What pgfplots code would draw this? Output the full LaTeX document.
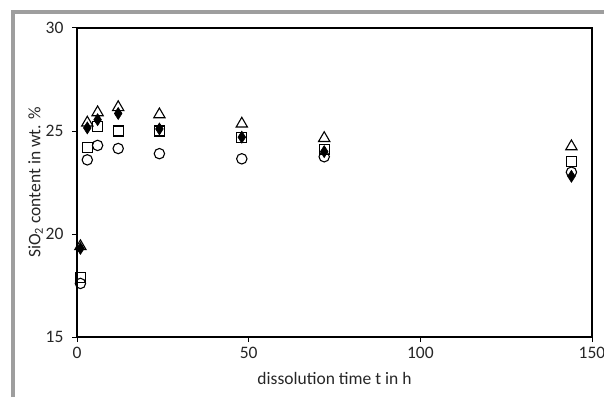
\documentclass[border=0pt]{standalone}
\usepackage{pgfplots}
\pgfplotsset{compat=1.18}
\usepackage{fontspec}
\setmainfont{Carlito}
\begin{document}
\begin{tikzpicture}[x=1bp,y=1bp]
\path[use as bounding box] (0,0) rectangle (604,397);
\draw[color=black!38, line width=3.5bp] (13,0) -- (13,385) -- (604,385);
\begin{axis}[
  at={(77bp,60bp)}, anchor=south west,
  width=515bp, height=309bp, scale only axis,
  xmin=0, xmax=150, ymin=15, ymax=30,
  xtick={0,50,100,150}, ytick={15,20,25,30},
  tick align=outside, tick pos=left,
  major tick length=5bp,
  axis line style={line width=1.2bp},
  every tick/.style={black, line width=1bp},
  /pgf/number format/assume math mode=true,
  tick label style={font=\fontsize{17.5bp}{20bp}\selectfont, text=black!85},
  yticklabel style={xshift=-5bp},
  xticklabel style={yshift=-2bp},
  label style={font=\fontsize{17.5bp}{20bp}\selectfont, text=black!85},
  xlabel={dissolution time t in h},
  ylabel={SiO\textsubscript{2} content in wt. \%},
  xlabel style={yshift=-7bp},
  ylabel style={yshift=-4bp},
  clip=false,
]
\addplot[only marks, mark=diamond*, mark size=6bp, mark options={fill=black, xscale=0.85, line width=0.6bp}]
 coordinates {(1,19.3) (3,25.15) (6,25.55) (12,25.85) (24,25.1) (48,24.7) (72,24.0) (144,22.8)};
\addplot[only marks, mark=triangle, mark size=6.5bp, mark options={line width=1.1bp, fill=none}]
 coordinates {(1,19.4) (3,25.4) (6,25.9) (12,26.15) (24,25.8) (48,25.35) (72,24.65) (144,24.25)};
\addplot[only marks, mark=square, mark size=5bp, mark options={line width=1.1bp}]
 coordinates {(1,17.9) (3,24.2) (6,25.2) (12,25.0) (24,25.0) (48,24.7) (72,24.1) (144,23.5)};
\addplot[only marks, mark=o, mark size=5.2bp, mark options={line width=1.1bp}]
 coordinates {(1,17.6) (3,23.6) (6,24.3) (12,24.15) (24,23.9) (48,23.65) (72,23.75) (144,23.0)};
\end{axis}
\end{tikzpicture}
\end{document}
